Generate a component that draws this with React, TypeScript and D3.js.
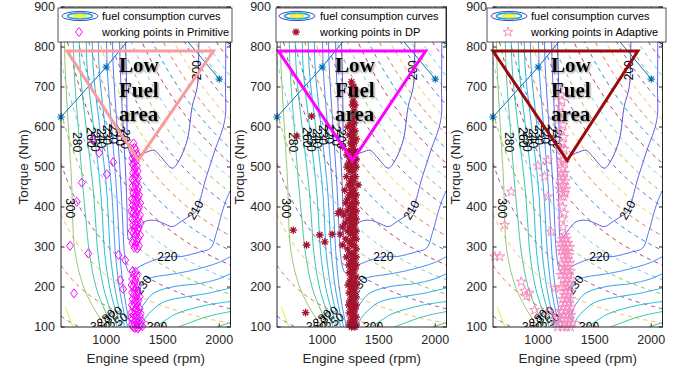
import React from 'react';
import * as d3 from 'd3';

type P = [number, number];

// ---------- axes ----------
const xTicks = [1000, 1500, 2000];
const yTicks = [100, 200, 300, 400, 500, 600, 700, 800, 900];
const xDomain: P = [600, 2100];
const yDomain: P = [100, 900];

// ---------- iso-power (dashed) levels, kW ----------
const powerLevels = [8, 16, 24, 32, 40, 48, 56, 64, 72, 80, 88, 96, 104, 112, 120, 128, 136, 144, 152, 160, 168, 176, 184, 192, 200];

// ---------- full load curve ----------
const fullLoad: P[] = [[600, 625], [1000, 750], [1450, 905], [2000, 720]];

// ---------- BSFC contour lines (rpm, Nm) ----------
const c350: P[] = [[640, 150], [675, 122], [706, 100]];
const c300: P[] = [[625, 900], [636, 750], [665, 600], [695, 455], [700, 400], [724, 288], [800, 200], [905, 140], [1000, 100]];
const c280: P[] = [[705, 900], [715, 750], [752, 600], [792, 455], [820, 370], [850, 288], [910, 200], [990, 140], [1060, 100]];
const c270: P[] = [[760, 900], [769, 750], [822, 600], [881, 455], [905, 370], [925, 288], [975, 200], [1040, 140], [1100, 100]];
const c260: P[] = [[822, 900], [831, 750], [888, 600], [946, 455], [968, 370], [985, 288], [1030, 200], [1085, 140], [1135, 100]];
const c250: P[] = [[875, 900], [884, 750], [942, 600], [1000, 455], [1020, 370], [1035, 288], [1075, 200], [1120, 140], [1165, 100]];
const c240: P[] = [[928, 900], [937, 750], [990, 600], [1044, 455], [1064, 370], [1080, 288], [1115, 200], [1155, 140], [1190, 100]];
const c230: P[] = [[1000, 900], [1009, 750], [1048, 600], [1088, 455], [1105, 370], [1120, 288], [1150, 200], [1185, 140], [1215, 100]];
const c220: P[] = [[1053, 900], [1062, 750], [1096, 600], [1130, 455], [1145, 370], [1160, 288], [1185, 245], [1205, 236], [1240, 240], [1300, 252], [1423, 267], [1541, 276], [1658, 276], [1835, 288], [1923, 297], [1980, 340], [2040, 400], [2093, 438], [2110, 445]];
const c210: P[] = [[1115, 900], [1124, 750], [1150, 600], [1177, 455], [1185, 380], [1190, 330], [1200, 318], [1260, 340], [1335, 363], [1423, 367], [1500, 360], [1585, 351], [1658, 363], [1740, 378], [1791, 388], [1835, 422], [1870, 460], [1960, 540], [2050, 617], [2056, 700], [2058, 800], [2062, 900]];
const c200: P[] = [[1168, 900], [1172, 800], [1177, 750], [1183, 650], [1186, 580], [1195, 548], [1246, 517], [1300, 530], [1365, 538], [1423, 542], [1482, 526], [1585, 497], [1629, 509], [1717, 567], [1760, 650], [1806, 701], [1820, 809], [1825, 900]];
const c230r: P[] = [[1255, 100], [1280, 150], [1306, 200], [1345, 218], [1423, 225], [1629, 234], [1835, 247], [2011, 263], [2110, 278]];
const c240r: P[] = [[1290, 100], [1306, 140], [1340, 160], [1423, 185], [1600, 201], [1835, 209], [2011, 222], [2110, 235]];
const c250r: P[] = [[1320, 100], [1340, 120], [1420, 145], [1511, 163], [1717, 176], [1894, 184], [2110, 198]];
const c260r: P[] = [[1440, 100], [1530, 118], [1629, 134], [1894, 155], [2110, 164]];
const c270r: P[] = [[1640, 100], [1894, 126], [2110, 139]];
const c280r: P[] = [[1980, 100], [2110, 112]];

const contourLines: [number, P[]][] = [
  [350, c350], [300, c300], [280, c280], [270, c270], [260, c260], [250, c250], [240, c240], [230, c230],
  [220, c220], [210, c210], [200, c200], [230, c230r], [240, c240r], [250, c250r], [260, c260r], [270, c270r], [280, c280r],
];

// contour labels: text, rpm, torque, rotation
const contourLabels: [string, number, number, number][] = [
  ['280', 738, 562, 90], ['260', 862, 574, 90], ['250', 905, 563, 90], ['240', 950, 572, 90],
  ['230', 1010, 580, 90], ['220', 1062, 583, 90], ['210', 1118, 578, 90], ['200', 1168, 570, 90],
  ['300', 680, 397, 90], ['200', 1806, 742, -90], ['210', 2092, 832, 90], ['210', 1791, 392, -60],
  ['220', 1541, 276, 0], ['230', 1328, 205, -55], ['350', 946, 100, 0], ['300', 1450, 100, 0],
  ['280', 1000, 122, -40], ['320', 1062, 130, -40], ['250', 1110, 113, -40],
];

// ---------- working points ----------
const primitivePts: P[] = [
  [881, 569], [937, 535], [1062, 512], [1005, 482], [784, 461], [739, 413], [680, 303], [842, 284], [715, 184], [1109, 280], [1168, 267], [1124, 217], [1150, 195],
  [1242, 559], [1250, 548], [1262, 543], [1240, 535], [1270, 533], [1255, 525], [1232, 522], [1262, 515], [1245, 512], [1240, 505], [1270, 503], [1255, 498],
  [1250, 493], [1278, 490], [1238, 485], [1262, 482], [1255, 475], [1282, 472], [1232, 470], [1245, 465], [1270, 462], [1260, 455], [1235, 452], [1285, 450],
  [1250, 445], [1275, 442], [1240, 435], [1265, 433], [1290, 430], [1255, 425], [1280, 423], [1228, 420], [1245, 415], [1270, 413], [1300, 410], [1235, 405],
  [1260, 403], [1290, 400], [1250, 395], [1280, 393], [1222, 390], [1240, 385], [1268, 383], [1298, 380], [1255, 375], [1285, 373], [1230, 370], [1245, 365],
  [1275, 363], [1305, 360], [1238, 355], [1262, 353], [1290, 350], [1250, 345], [1280, 343], [1225, 340], [1240, 335], [1268, 333], [1300, 330], [1255, 325],
  [1285, 322], [1245, 315], [1272, 313], [1232, 310], [1260, 305], [1290, 303], [1250, 298], [1275, 296],
  [1235, 240], [1260, 238], [1245, 230], [1270, 228], [1230, 220], [1258, 218], [1250, 210], [1275, 208], [1225, 205], [1240, 200], [1265, 198], [1255, 190],
  [1280, 188], [1230, 186], [1245, 180], [1270, 178], [1295, 176], [1235, 170], [1260, 168], [1285, 166], [1250, 160], [1275, 158], [1228, 155], [1240, 150],
  [1265, 148], [1295, 146], [1255, 140], [1280, 138], [1225, 136], [1305, 134], [1245, 130], [1270, 128], [1300, 126], [1220, 124], [1235, 120], [1260, 118],
  [1290, 116], [1315, 114], [1250, 110], [1275, 108], [1225, 106], [1305, 104], [1240, 100], [1265, 100], [1290, 100], [1320, 102], [1255, 97], [1280, 96],
];

const dpPts: P[] = [
  [906, 627], [774, 577], [744, 342], [853, 136], [979, 330], [1023, 313], [1088, 332], [1141, 384], [862, 305], [1182, 551],
  [1259, 713], [1265, 700], [1280, 700], [1270, 690], [1262, 680], [1285, 680], [1275, 665], [1268, 655], [1290, 655], [1280, 640], [1260, 630], [1295, 630],
  [1275, 620], [1285, 610], [1250, 610], [1226, 600], [1270, 600], [1290, 590], [1260, 590], [1275, 580], [1240, 580], [1300, 570], [1265, 570], [1250, 560],
  [1285, 560], [1270, 551], [1235, 540], [1295, 540], [1260, 540], [1280, 530], [1220, 530], [1250, 520], [1300, 520], [1270, 520], [1235, 510], [1285, 510],
  [1260, 500], [1220, 500], [1300, 500], [1245, 490], [1280, 490], [1215, 476], [1265, 476], [1295, 476], [1250, 465], [1280, 465], [1317, 455], [1235, 455],
  [1265, 455], [1200, 442], [1255, 442], [1285, 442], [1240, 430], [1270, 430], [1300, 430], [1225, 420], [1285, 420], [1260, 410], [1300, 410], [1210, 410],
  [1240, 400], [1280, 400], [1160, 390], [1220, 390], [1265, 390], [1300, 390], [1190, 380], [1250, 380], [1285, 380], [1230, 370], [1270, 370], [1300, 370],
  [1205, 360], [1255, 360], [1290, 360], [1240, 350], [1280, 350], [1180, 350], [1225, 340], [1265, 340], [1300, 340], [1160, 332], [1250, 332], [1285, 330],
  [1210, 320], [1270, 320], [1300, 320], [1240, 313], [1180, 305], [1285, 305], [1260, 305], [1225, 295], [1300, 295], [1245, 285], [1280, 285], [1215, 275],
  [1265, 275], [1300, 275], [1250, 265], [1285, 265], [1235, 255], [1270, 255], [1300, 255], [1255, 245], [1290, 245], [1240, 235], [1275, 235], [1260, 225],
  [1300, 225], [1245, 215], [1285, 215], [1230, 205], [1270, 205], [1300, 205], [1255, 195], [1290, 195], [1240, 185], [1275, 185], [1260, 175], [1300, 175],
  [1245, 165], [1285, 165], [1235, 155], [1270, 155], [1300, 155], [1255, 145], [1290, 145], [1240, 135], [1280, 135], [1265, 125], [1300, 125], [1250, 115],
  [1285, 115], [1240, 105], [1275, 105], [1300, 105], [1260, 100], [1290, 100],
];

const adaptivePts: P[] = [
  [1200, 680], [1210, 665], [1195, 650], [1215, 635], [1200, 620], [1220, 605], [1205, 590], [1225, 575], [1210, 560], [1195, 545], [1230, 545], [1215, 530],
  [1085, 517], [1220, 517], [1200, 510], [1235, 510], [997, 503], [1215, 495], [1205, 485], [1235, 485], [1056, 476], [1220, 476], [1200, 465], [1240, 465],
  [1215, 455], [1230, 455], [1190, 445], [1245, 445], [761, 438], [1210, 435], [1235, 435], [1085, 426], [1225, 426], [1200, 415], [1215, 400], [1230, 385],
  [1210, 370], [703, 355], [1220, 350], [1115, 338], [1235, 330], [1215, 320], [1250, 320], [1230, 310], [1265, 310], [1200, 310], [1245, 300], [1215, 300],
  [1280, 300], [1230, 290], [1260, 290], [1205, 290], [1250, 280], [1220, 280], [1275, 280], [615, 276], [660, 276], [1235, 270], [1265, 270], [1210, 260],
  [1245, 260], [1280, 260], [1230, 250], [1265, 250], [1215, 240], [1250, 240], [1285, 240], [1235, 230], [1270, 230], [1200, 230], [1255, 220], [1220, 220],
  [1290, 220], [850, 213], [1240, 210], [1275, 210], [1225, 200], [1260, 200], [1205, 200], [1145, 197], [880, 190], [1245, 190], [1280, 190], [920, 185],
  [1230, 180], [1265, 180], [900, 178], [1250, 170], [1215, 170], [1285, 170], [1235, 160], [1270, 160], [1255, 150], [1220, 150], [1290, 150], [968, 142],
  [1240, 140], [1275, 140], [1205, 140], [1100, 138], [1260, 130], [1225, 130], [1290, 130], [1170, 130], [1245, 120], [1280, 120], [1210, 120], [1150, 120],
  [1265, 110], [1230, 110], [1300, 110], [1190, 110], [1250, 100], [1220, 100], [1285, 100], [1170, 100],
];

// ---------- "Low Fuel area" triangles (rpm, Nm) ----------
const triPrimitive: P[] = [[653, 790], [1949, 790], [1283, 517]];
const triDP: P[] = [[612, 790], [1915, 790], [1268, 516]];
const triAdaptive: P[] = [[600, 790], [1882, 790], [1256, 516]];

const legendTitle = 'fuel consumption curves';
const lowFuelLines = ['Low', 'Fuel', 'area'];

// ---------- styles ----------
const levelColor: Record<number, string> = {
  200: '#4a3fd0', 210: '#4f50e8', 220: '#3f6af4', 230: '#3484ef', 240: '#2498e6', 250: '#17a9dc',
  260: '#12b5c9', 270: '#1fbdae', 280: '#3cc094', 300: '#8cc164', 350: '#f2e41c',
};
const dashColors = ['#0072BD', '#D95319', '#EDB120', '#7E2F8E', '#77AC30', '#4DBEEE', '#A2142F'];

const PT = 7, PB = 327, PW = 169.5;
const AX = '#262626';
const SANS = '"Liberation Sans", Arial, sans-serif';

type Cfg = {
  id: string; left: number; legend: { x: number; w: number; icon: number; text: number };
  label: string; marker: 'diamond' | 'asterisk' | 'star'; color: string; pts: P[]; tri: P[]; triColor: string;
};

const panels: Cfg[] = [
  { id: 'p1', left: 61, legend: { x: 58, w: 174, icon: 80, text: 102 }, label: 'working points in Primitive', marker: 'diamond', color: '#ff00ff', pts: primitivePts, tri: triPrimitive, triColor: '#fa9c9c' },
  { id: 'p2', left: 277, legend: { x: 276, w: 170, icon: 297, text: 320 }, label: 'working points in DP', marker: 'asterisk', color: '#a2142f', pts: dpPts, tri: triDP, triColor: '#ff00ff' },
  { id: 'p3', left: 493, legend: { x: 487, w: 179, icon: 509, text: 531 }, label: 'working points in Adaptive', marker: 'star', color: '#f78cc0', pts: adaptivePts, tri: triAdaptive, triColor: '#9b0a0a' },
];

const diamondPath = 'M0,-4.5L3.5,0L0,4.5L-3.5,0Z';
const asteriskPath = 'M0,-3.8V3.8M-3.8,0H3.8M-2.7,-2.7L2.7,2.7M-2.7,2.7L2.7,-2.7';
const starPath = d3.symbol(d3.symbolStar, 30)() as string;

function markerPath(m: Cfg['marker']) {
  return m === 'diamond' ? diamondPath : m === 'asterisk' ? asteriskPath : starPath;
}

function Panel({ cfg }: { cfg: Cfg }) {
  const x = d3.scaleLinear().domain(xDomain).range([cfg.left, cfg.left + PW]);
  const y = d3.scaleLinear().domain(yDomain).range([PB, PT]);
  const smooth = d3.line<P>().x(d => x(d[0])).y(d => y(d[1])).curve(d3.curveCatmullRom.alpha(0.5));
  const straight = d3.line<P>().x(d => x(d[0])).y(d => y(d[1]));
  const speeds = d3.range(600, 2101, 20);
  const clipId = `clip-${cfg.id}`;
  const right = cfg.left + PW;
  const mp = markerPath(cfg.marker);
  const lg = cfg.legend;
  const inside = (d: P) => d[0] >= xDomain[0] && d[0] <= xDomain[1] && d[1] >= yDomain[0] - 5 && d[1] <= yDomain[1];

  return (
    <g>
      <defs>
        <clipPath id={clipId}>
          <rect x={cfg.left} y={PT} width={PW} height={PB - PT} />
        </clipPath>
      </defs>
      <rect x={cfg.left} y={PT} width={PW} height={PB - PT} fill="#fff" />
      <g clipPath={`url(#${clipId})`}>
        {powerLevels.map((p, i) => (
          <path key={'pw' + i} d={straight(speeds.map(n => [n, (9549 * p) / n] as P)) || ''}
            fill="none" stroke={dashColors[i % dashColors.length]} strokeWidth={0.9} strokeOpacity={0.9} strokeDasharray="4,4" />
        ))}
        {contourLines.map(([lev, pts], i) => (
          <path key={'c' + i} d={smooth(pts) || ''} fill="none" stroke={levelColor[lev]} strokeWidth={0.9} />
        ))}
        {contourLabels.map(([t, n, tq, r], i) => (
          <text key={'l' + i} x={x(n)} y={y(tq)} transform={`rotate(${r},${x(n)},${y(tq)})`} textAnchor="middle"
            dominantBaseline="central" fontSize={12} fontFamily={SANS} fill="#000">{t}</text>
        ))}
        <path d={straight(fullLoad) || ''} fill="none" stroke="#0072BD" strokeWidth={1} />
      </g>
      {fullLoad.filter(inside).map((d, i) => (
        <path key={'fl' + i} d={asteriskPath} transform={`translate(${x(d[0])},${y(d[1])})`} stroke="#0072BD" strokeWidth={1.1} fill="none" />
      ))}
      {cfg.pts.map((d, i) => (
        <path key={'pt' + i} d={mp} transform={`translate(${x(d[0])},${y(d[1])})`} fill="none" stroke={cfg.color}
          strokeWidth={cfg.marker === 'asterisk' ? 1.3 : 1} />
      ))}
      <path d={(straight(cfg.tri) || '') + 'Z'} fill="none" stroke={cfg.triColor} strokeWidth={3} strokeLinejoin="miter" />
      <g filter="url(#shadow)">
        {lowFuelLines.map((t, i) => (
          <text key={'lf' + i} x={cfg.left + 58} y={72 + i * 24.5} fontFamily='"Liberation Serif", "Times New Roman", serif'
            fontWeight="bold" fontSize={21} fill="#000">{t}</text>
        ))}
      </g>
      {/* axes box */}
      <rect x={cfg.left} y={PT} width={PW} height={PB - PT} fill="none" stroke={AX} strokeWidth={1} />
      {xTicks.map(t => (
        <g key={'xt' + t}>
          <line x1={x(t)} x2={x(t)} y1={PB} y2={PB - 3.5} stroke={AX} />
          <line x1={x(t)} x2={x(t)} y1={PT} y2={PT + 3.5} stroke={AX} />
          <text x={x(t)} y={340} textAnchor="middle" dominantBaseline="central" fontSize={12.5} fontFamily={SANS} fill={AX}>{t}</text>
        </g>
      ))}
      {yTicks.map(t => (
        <g key={'yt' + t}>
          <line x1={cfg.left} x2={cfg.left + 3.5} y1={y(t)} y2={y(t)} stroke={AX} />
          <line x1={right} x2={right - 3.5} y1={y(t)} y2={y(t)} stroke={AX} />
          <text x={cfg.left - 6} y={y(t)} textAnchor="end" dominantBaseline="central" fontSize={12.5} fontFamily={SANS} fill={AX}>{t}</text>
        </g>
      ))}
      <text x={(cfg.left + right) / 2} y={358} textAnchor="middle" dominantBaseline="central" fontSize={13.5} fontFamily={SANS} fill={AX}>Engine speed (rpm)</text>
      <text x={cfg.left - 38} y={(PT + PB) / 2} transform={`rotate(-90,${cfg.left - 38},${(PT + PB) / 2})`} textAnchor="middle"
        dominantBaseline="central" fontSize={13.5} fontFamily={SANS} fill={AX}>Torque (Nm)</text>
      {/* legend */}
      <rect x={lg.x} y={8} width={lg.w} height={34} fill="#fff" stroke={AX} strokeWidth={0.8} />
      <ellipse cx={lg.icon} cy={16} rx={18} ry={4.6} fill="none" stroke="#4a3fd0" strokeWidth={1} />
      <ellipse cx={lg.icon} cy={16} rx={12.5} ry={3} fill="none" stroke="#16b0c8" strokeWidth={1.6} />
      <ellipse cx={lg.icon} cy={16} rx={6} ry={1.4} fill="none" stroke="#f2e41c" strokeWidth={1.6} />
      <text x={lg.text} y={16} dominantBaseline="central" fontSize={11} fontFamily={SANS} fill="#000">{legendTitle}</text>
      <path d={mp} transform={`translate(${lg.icon - 1},32)`} fill="none" stroke={cfg.color} strokeWidth={cfg.marker === 'asterisk' ? 1.3 : 1} />
      <text x={lg.text} y={32} dominantBaseline="central" fontSize={11} fontFamily={SANS} fill="#000">{cfg.label}</text>
    </g>
  );
}

export default function App() {
  return (
    <svg width={683} height={370} viewBox="0 0 683 370" style={{ position: 'absolute', left: 0, top: 0, background: '#fff' }}>
      <defs>
        <filter id="shadow" x="-20%" y="-20%" width="140%" height="140%">
          <feGaussianBlur in="SourceAlpha" stdDeviation={1.3} />
          <feOffset dx={1} dy={1} result="b" />
          <feFlood floodColor="#777" floodOpacity={0.9} />
          <feComposite in2="b" operator="in" />
          <feMerge>
            <feMergeNode />
            <feMergeNode in="SourceGraphic" />
          </feMerge>
        </filter>
      </defs>
      <rect x={0} y={0} width={683} height={370} fill="#fff" />
      {panels.map(p => <Panel key={p.id} cfg={p} />)}
    </svg>
  );
}
